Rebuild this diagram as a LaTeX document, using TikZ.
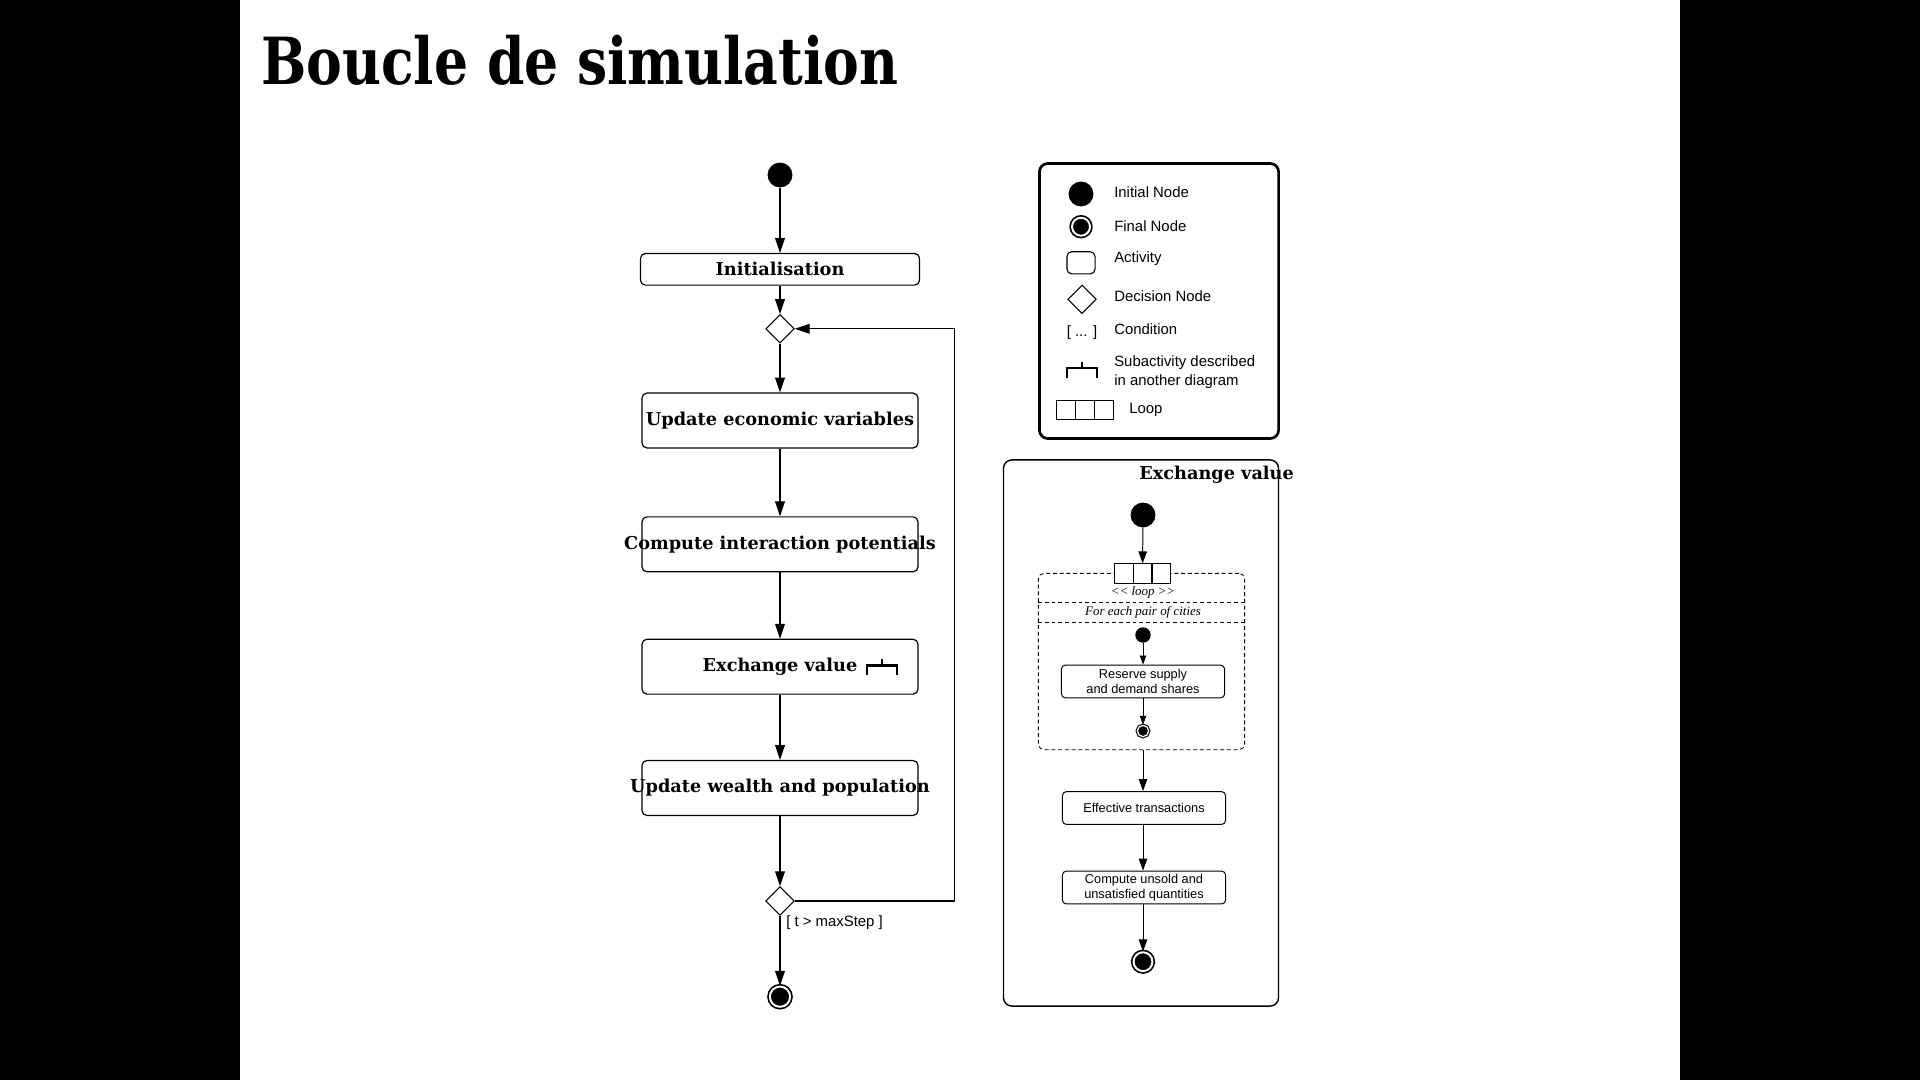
\documentclass[tikz,border=0pt]{standalone}
\usepackage{fontspec}
\setmainfont{Liberation Sans}
\newfontfamily\actfont{DejaVu Serif}
\newfontfamily\condfont{Liberation Serif}
\usetikzlibrary{arrows.meta,shapes.geometric}

\newcommand{\actlabel}[1]{\makebox[0pt]{#1}}

\tikzset{
  rake/.pic={\draw[line width=1.8pt] (-15,9.5) -- (-15,0) -- (15,0) -- (15,9.5) (0,0) -- (0,-6.5);}
}

\begin{document}
\begin{tikzpicture}[x=0.025cm, y=-0.025cm,
  startnode/.style={circle, fill=black, inner sep=0pt, minimum size=17.7pt},
  endnode/.style={circle, fill=black, draw, line width=1.2pt, double=white, double distance=1.4pt, inner sep=0pt, minimum size=14.4pt},
  dec/.style={diamond, draw, line width=0.75pt, inner sep=0pt, minimum size=20.3pt},
  act/.style={draw, line width=0.85pt, rounded corners=3.5pt, minimum width=196.3pt, minimum height=39pt, font=\actfont\bfseries\fontsize{12.6}{14}\selectfont},
  pact/.style={draw, line width=0.7pt, rounded corners=3pt, minimum width=116.2pt, minimum height=23.4pt, inner sep=1pt, align=center, font=\fontsize{9.1}{10.8}\selectfont},
  key/.style={anchor=west, inner sep=0pt, font=\fontsize{10.6}{13.2}\selectfont},
  loopcells/.style={draw, fill=white, line width=0.75pt, inner sep=0pt, minimum width=40.4pt, minimum height=13.6pt,
    path picture={\draw[line width=0.75pt] ([xshift=-6.73pt]path picture bounding box.north) -- ([xshift=-6.73pt]path picture bounding box.south)
      ([xshift=6.73pt]path picture bounding box.north) -- ([xshift=6.73pt]path picture bounding box.south);}},
  arr/.style={-{Triangle[length=10.6pt,width=7pt]}, line width=0.75pt},
  parr/.style={-{Triangle[length=8.5pt,width=6pt]}, line width=0.7pt},
  sarr/.style={-{Triangle[length=6.4pt,width=4.6pt]}, line width=0.6pt}]

  % slide
  \fill[black] (0,0) rectangle (1920,1080);
  \fill[white] (240,0) rectangle (1680,1080);
  \node[anchor=base west, inner sep=0pt, font=\actfont\bfseries\fontsize{46.2}{50}\selectfont] (title) at (261,84.5) {\scalebox{0.825}[1]{Boucle de simulation}};

  % main loop
  \node[startnode] (s0) at (780,175) {};
  \node[act, minimum width=198.4pt, minimum height=22.5pt] (init) at (780,269.3) {\actlabel{Initialisation}};
  \node[dec] (d1) at (780,328.8) {};
  \node[act] (econ) at (780,420.5) {\actlabel{Update economic variables}};
  \node[act] (pot) at (780,544.3) {\actlabel{Compute interaction potentials}};
  \node[act] (exch) at (780,666.7) {\actlabel{Exchange value}};
  \node[act] (wealth) at (780,788) {\actlabel{Update wealth and population}};
  \node[dec] (d2) at (780,901) {};
  \node[endnode] (e0) at (780,996.7) {};
  \node[key] (cond) at (786,922.7) {[ t > maxStep ]};
  \pic at (882,665.7) {rake};
  \coordinate (back) at (954.3,901);

  \draw[arr] (s0) -- (init);
  \draw[arr] (init) -- (d1);
  \draw[arr] (d1) -- (econ);
  \draw[arr] (econ) -- (pot);
  \draw[arr] (pot) -- (exch);
  \draw[arr] (exch) -- (wealth);
  \draw[arr] (wealth) -- (d2);
  \draw[arr] (d2) -- (e0);
  \draw[arr] (d2) -- (back) |- (d1);

  % legend
  \node[draw, line width=1.9pt, rounded corners=6pt, minimum width=170.1pt, minimum height=195.6pt] (legend) at (1159,301) {};
  \node[startnode] (ls) at (1081,194) {};
  \node[key] (lst) at (1114,192) {Initial Node};
  \node[endnode, minimum size=12.8pt] (lf) at (1081,226.7) {};
  \node[key] (lft) at (1114,226) {Final Node};
  \node[draw, line width=0.8pt, rounded corners=3.5pt, minimum width=20pt, minimum height=15.8pt] (la) at (1081,262.8) {};
  \node[key] (lat) at (1114,259) {Activity};
  \node[dec] (ld) at (1082,299.3) {};
  \node[key] (ldt) at (1114,295.7) {Decision Node};
  \node[inner sep=0pt, font=\fontsize{10.6}{13.2}\selectfont] (lc) at (1082,333) {[ ... ]};
  \node[key] (lct) at (1114,329) {Condition};
  \pic at (1082,368) {rake};
  \node[key, align=left] (lrt) at (1114,372.3) {Subactivity described\\in another diagram};
  \node[loopcells] (ll) at (1085,410) {};
  \node[key] (llt) at (1129,410) {Loop};

  % exchange value
  \node[draw, line width=1pt, rounded corners=6pt, minimum width=195.6pt, minimum height=388.4pt] (panel) at (1141,733) {};
  \node[anchor=west, inner sep=0pt, font=\actfont\bfseries\fontsize{12.6}{14}\selectfont] (ptitle) at (1139,475) {Exchange value};
  \node[startnode] (s1) at (1143,515) {};
  \node[draw, dashed, dash pattern=on 2.8pt off 2pt, line width=0.6pt, rounded corners=4pt, minimum width=146.7pt, minimum height=125.4pt] (reg) at (1141.5,661.5) {};
  \draw[dash pattern=on 2.8pt off 2pt, line width=0.6pt] (1038,602) -- (1245,602) (1038,622) -- (1245,622);
  \node[loopcells] (lp) at (1142.5,573.5) {};
  \node[inner sep=0pt, font=\condfont\itshape\fontsize{9.2}{11}\selectfont] (lpt) at (1143,592) {<\kern0pt< loop >\kern0pt>};
  \node[inner sep=0pt, font=\condfont\itshape\fontsize{9.2}{11}\selectfont] (pair) at (1143,612) {For each pair of cities};
  \node[startnode, minimum size=11pt] (s2) at (1143,635) {};
  \node[pact] (res) at (1143,681.5) {Reserve supply\\and demand shares};
  \node[endnode, minimum size=8pt, line width=0.8pt, double distance=0.9pt] (e2) at (1143,731) {};
  \node[pact] (eff) at (1144,808) {Effective transactions};
  \node[pact] (uns) at (1144,887.5) {Compute unsold and\\unsatisfied quantities};
  \node[endnode, minimum size=13.4pt] (e1) at (1143,961.7) {};

  \draw[parr] (s1) -- (lp);
  \draw[sarr] (s2) -- (res);
  \draw[sarr] (res) -- (e2);
  \draw[parr] (reg.south -| s1) -- (eff.north -| s1);
  \draw[parr] (eff.south -| s1) -- (uns.north -| s1);
  \draw[parr] (uns.south -| s1) -- (e1);
\end{tikzpicture}
\end{document}
